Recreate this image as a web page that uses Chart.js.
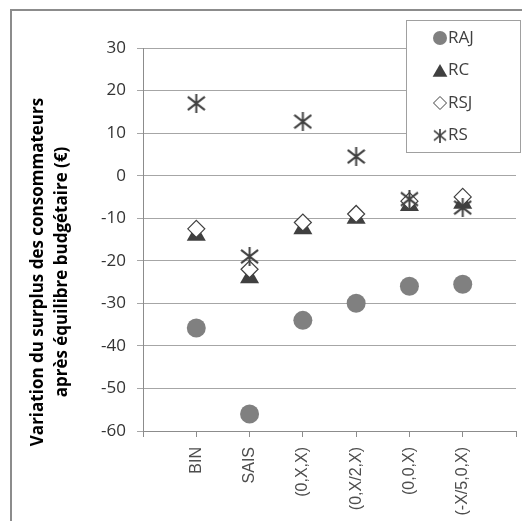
<!DOCTYPE html>
<html>
<head>
<meta charset="utf-8">
<script src="https://cdn.jsdelivr.net/npm/chart.js@4.4.1/dist/chart.umd.min.js"></script>
<style>
  body { margin: 0; background: #fff; }
  #wrap { position: relative; width: 522px; height: 521px; }
</style>
</head>
<body>
<div id="wrap"><canvas id="surplusChart" width="522" height="521"></canvas></div>
<script>
const categories = ['BIN', 'SAIS', '(0,X,X)', '(0,X/2,X)', '(0,0,X)', '(-X/5,0,X)'];
const seriesNames = ['RAJ', 'RC', 'RSJ', 'RS'];
const raj = [-35.8, -56, -34, -30, -26, -25.5];
const rc = [-14, -24, -12.5, -10, -7, -6.5];
const rsj = [-12.5, -22, -11, -9, -6, -5];
const rs = [17, -19, 12.7, 4.5, -5.5, -7.5];
const yTicks = [30, 20, 10, 0, -10, -20, -30, -40, -50, -60];
const titleLines = ['Variation du surplus des consommateurs', 'après équilibre budgétaire (€)'];

function makeAsterisk(size, lw) {
    const c = document.createElement('canvas');
    c.width = size;
    c.height = size;
    const g = c.getContext('2d');
    g.strokeStyle = '#404040';
    g.lineWidth = lw;
    const m = size / 2;
    g.beginPath();
    g.moveTo(m, 0);
    g.lineTo(m, size);
    g.moveTo(1, size * 0.15);
    g.lineTo(size - 1, size * 0.85);
    g.moveTo(size - 1, size * 0.15);
    g.lineTo(1, size * 0.85);
    g.stroke();
    return c;
}

const starBig = makeAsterisk(19, 2);
const starSmall = makeAsterisk(14, 1.7);

function toPoints(values) {
    return values.map((v, i) => ({ x: i + 1, y: v }));
}

// frame + white background
const framePlugin = {
    id: 'frame',
    beforeDraw(chart) {
        const ctx = chart.ctx;
        ctx.save();
        ctx.fillStyle = '#fff';
        ctx.fillRect(0, 0, chart.width, chart.height);
        ctx.strokeStyle = '#8c8c8c';
        ctx.lineWidth = 2;
        ctx.beginPath();
        ctx.moveTo(11, chart.height);
        ctx.lineTo(11, 10);
        ctx.lineTo(chart.width, 10);
        ctx.stroke();
        ctx.restore();
    }
};

// rotated two-line y title
const yTitlePlugin = {
    id: 'yTitle',
    afterDraw(chart) {
        const ctx = chart.ctx;
        ctx.save();
        ctx.fillStyle = '#000';
        ctx.font = 'bold 17px "Open Sans"';
        ctx.textAlign = 'center';
        ctx.textBaseline = 'middle';
        const xs = [38, 62];
        titleLines.forEach((line, i) => {
            ctx.save();
            ctx.translate(xs[i], 272);
            ctx.rotate(-Math.PI / 2);
            ctx.fillText(line, 0, 0);
            ctx.restore();
        });
        ctx.restore();
    }
};

// boxed legend in the top-right corner
const boxLegendPlugin = {
    id: 'boxLegend',
    afterDraw(chart) {
        const ctx = chart.ctx;
        ctx.save();
        ctx.fillStyle = '#fff';
        ctx.fillRect(406, 20, 116, 133);
        ctx.strokeStyle = '#a0a0a0';
        ctx.lineWidth = 1;
        ctx.strokeRect(406.5, 20.5, 114, 132);

        const styles = [
            { pointStyle: 'circle', radius: 7, fill: '#808080', stroke: '#808080', bw: 0 },
            { pointStyle: 'triangle', radius: 8.5, fill: '#404040', stroke: '#404040', bw: 0 },
            { pointStyle: 'rectRot', radius: 6.5, fill: '#fff', stroke: '#404040', bw: 1 },
            { pointStyle: starSmall, radius: 7, fill: '#404040', stroke: '#404040', bw: 0 }
        ];
        seriesNames.forEach((name, i) => {
            const y = 38 + i * 32.5;
            const s = styles[i];
            ctx.fillStyle = s.fill;
            ctx.strokeStyle = s.stroke;
            ctx.lineWidth = s.bw;
            Chart.helpers.drawPoint(ctx, { pointStyle: s.pointStyle, radius: s.radius, rotation: 0, borderWidth: s.bw }, 440, i === 1 ? y + 2 : y);
            ctx.fillStyle = '#404040';
            ctx.font = '17px "Open Sans"';
            ctx.textAlign = 'left';
            ctx.textBaseline = 'middle';
            ctx.fillText(name, 448, y);
        });
        ctx.restore();
    }
};

const ctx = document.getElementById('surplusChart');

new Chart(ctx, {
    type: 'scatter',
    data: {
        datasets: [
            {
                label: seriesNames[0],
                data: toPoints(raj),
                pointStyle: 'circle',
                pointRadius: 9.5,
                backgroundColor: '#808080',
                borderColor: '#808080',
                borderWidth: 0,
                order: 4
            },
            {
                label: seriesNames[1],
                data: toPoints(rc),
                pointStyle: 'triangle',
                pointRadius: 11,
                backgroundColor: '#404040',
                borderColor: '#404040',
                borderWidth: 0,
                order: 3
            },
            {
                label: seriesNames[2],
                data: toPoints(rsj),
                pointStyle: 'rectRot',
                pointRadius: 8.5,
                backgroundColor: '#ffffff',
                borderColor: '#404040',
                borderWidth: 1.2,
                order: 2
            },
            {
                label: seriesNames[3],
                data: toPoints(rs),
                pointStyle: starBig,
                pointRadius: 9,
                backgroundColor: '#404040',
                borderColor: '#404040',
                order: 1
            }
        ]
    },
    options: {
        responsive: false,
        animation: false,
        events: [],
        layout: {
            autoPadding: false,
            padding: { left: 0, top: 48, right: 6, bottom: 0 }
        },
        plugins: {
            legend: { display: false },
            tooltip: { enabled: false }
        },
        scales: {
            x: {
                type: 'linear',
                min: 0,
                max: categories.length + 1,
                afterFit: scale => {
                    scale.height = 90;
                    scale.paddingLeft = 0;
                    scale.paddingRight = 0;
                },
                afterBuildTicks: scale => {
                    scale.ticks = Array.from({ length: categories.length + 2 }, (_, i) => ({ value: i }));
                },
                ticks: {
                    autoSkip: false,
                    maxRotation: 90,
                    minRotation: 90,
                    padding: 10,
                    color: '#4d4d4d',
                    font: { family: '"Liberation Sans"', size: 16 },
                    callback: v => categories[v - 1] || ''
                },
                grid: {
                    drawOnChartArea: false,
                    drawTicks: true,
                    tickLength: 6,
                    color: '#8c8c8c'
                },
                border: { display: true, color: '#8c8c8c', width: 1 }
            },
            y: {
                min: yTicks[yTicks.length - 1],
                max: yTicks[0],
                afterFit: scale => { scale.width = 143; },
                afterBuildTicks: scale => {
                    scale.ticks = yTicks.map(v => ({ value: v }));
                },
                ticks: {
                    padding: 11,
                    color: '#333333',
                    font: { family: '"Open Sans"', size: 17 }
                },
                grid: {
                    color: '#a6a6a6',
                    lineWidth: 1,
                    drawTicks: true,
                    tickLength: 6
                },
                border: { display: true, color: '#8c8c8c', width: 1 }
            }
        }
    },
    plugins: [framePlugin, yTitlePlugin, boxLegendPlugin]
});
</script>
</body>
</html>
